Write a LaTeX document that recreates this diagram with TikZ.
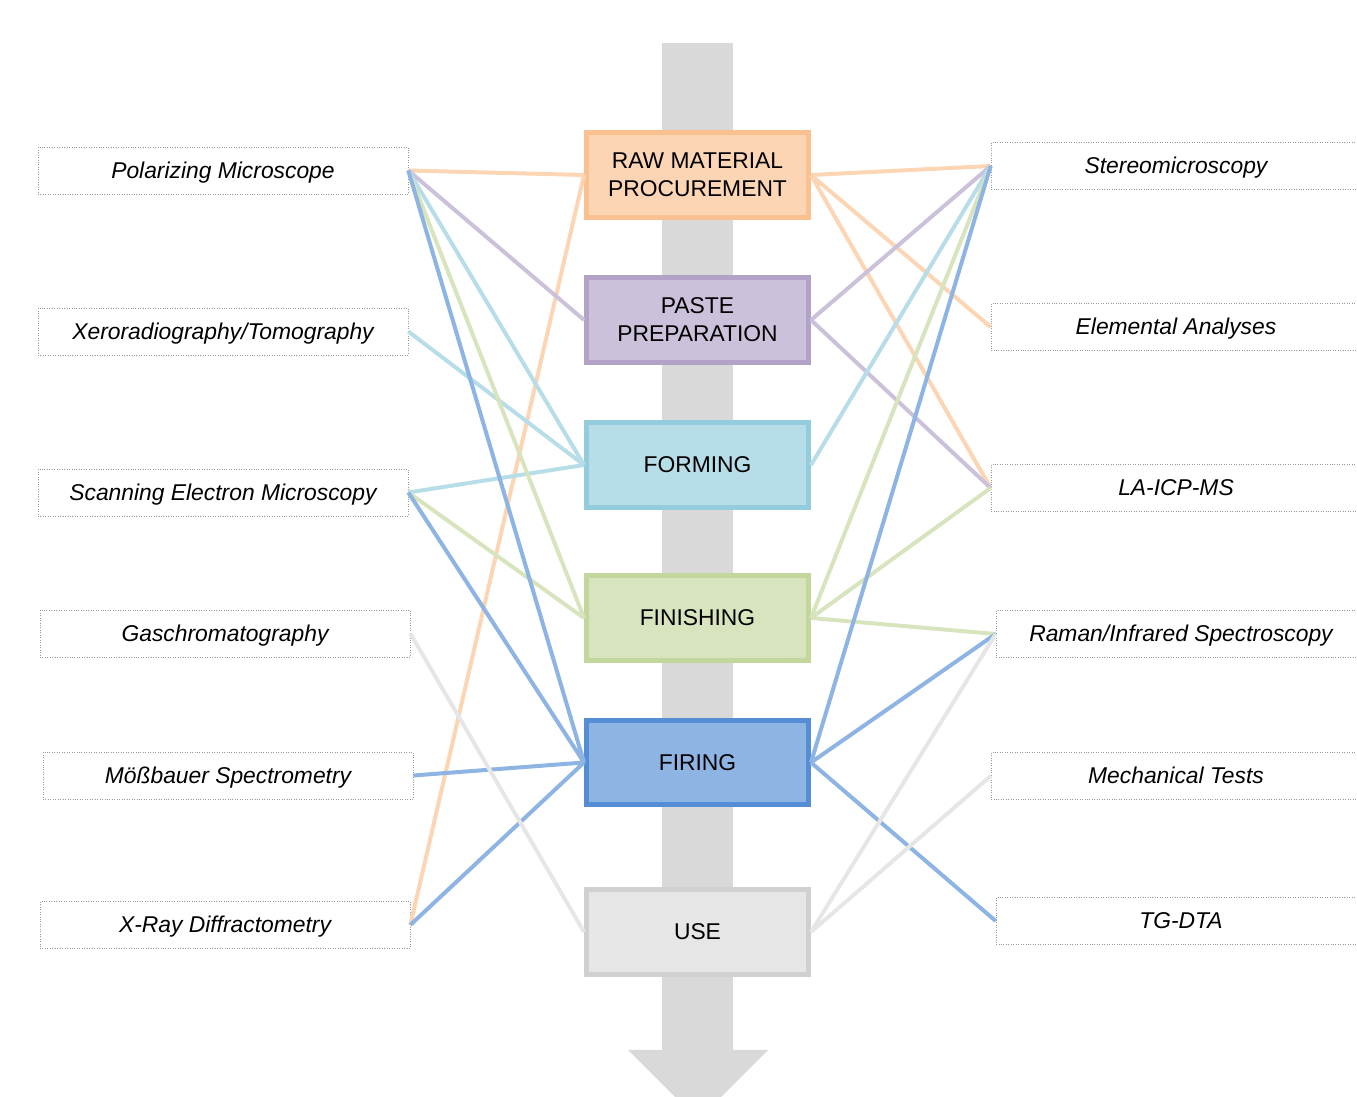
\documentclass[tikz,border=0pt]{standalone}
\usepackage{fontspec}
\setmainfont{Liberation Sans}
\usetikzlibrary{positioning}

\definecolor{rawfill}{HTML}{FCD5B5}
\definecolor{rawline}{HTML}{FAC090}
\definecolor{pastefill}{HTML}{CCC1DA}
\definecolor{pasteline}{HTML}{B3A2C7}
\definecolor{formfill}{HTML}{B7DEE8}
\definecolor{formline}{HTML}{93CDDD}
\definecolor{finfill}{HTML}{D7E4BD}
\definecolor{finline}{HTML}{C3D69B}
\definecolor{firefill}{HTML}{8EB4E3}
\definecolor{fireline}{HTML}{558ED5}
\definecolor{usefill}{HTML}{E6E6E6}
\definecolor{useline}{HTML}{D0D0D0}
\definecolor{shaft}{HTML}{D9D9D9}

\tikzset{
	every node/.style={font=\fontsize{13}{16}\selectfont},
	method/.style={draw=gray!80, densely dotted, line width=0.4pt, fill=white,
		minimum width=7.4cm, minimum height=0.94cm, text height=12pt, text depth=3pt,
		font=\fontsize{13}{16}\selectfont\itshape},
	stage/.style={line width=0.1cm, minimum width=4.44cm, minimum height=1.7cm, align=center},
	link/.style={line width=0.08cm}
}

\begin{document}
\begin{tikzpicture}[x=0.02cm,y=-0.02cm]
\useasboundingbox (0,0) rectangle (1357,1097);
\clip (0,0) rectangle (1357,1097);
%arrow
\fill[shaft] (662,43) rectangle (733,1050);
\fill[shaft] (628,1050) -- (768,1050) -- (698,1120) -- cycle;
%stages
\node[stage, draw=rawline, fill=rawfill] (raw) at (697.5,175) {RAW MATERIAL\\PROCUREMENT};
\node[stage, draw=pasteline, fill=pastefill] (paste) at (697.5,320) {PASTE\\PREPARATION};
\node[stage, draw=formline, fill=formfill] (forming) at (697.5,465) {FORMING};
\node[stage, draw=finline, fill=finfill] (finishing) at (697.5,618) {FINISHING};
\node[stage, draw=fireline, fill=firefill] (firing) at (697.5,762.5) {FIRING};
\node[stage, draw=useline, fill=usefill] (use) at (697.5,932) {USE};
%left methods
\node[method] (pm) at (223,170.5) {Polarizing Microscope};
\node[method] (xt) at (223,331.5) {Xeroradiography/Tomography};
\node[method] (sem) at (223,492.5) {Scanning Electron Microscopy};
\node[method] (gc) at (225,633.5) {Gaschromatography};
\node[method] (ms) at (228,775.5) {Mößbauer Spectrometry};
\node[method] (xrd) at (225,925) {X-Ray Diffractometry};
%right methods
\node[method] (stereo) at (1176,166) {Stereomicroscopy};
\node[method] (elem) at (1176,327) {Elemental Analyses};
\node[method] (la) at (1176,488) {LA-ICP-MS};
\node[method] (raman) at (1181,634) {Raman/Infrared Spectroscopy};
\node[method] (mech) at (1176,776) {Mechanical Tests};
\node[method] (tg) at (1181,921) {TG-DTA};
%raw material
\draw[link, rawfill] (pm.east) -- (raw.west)
	(xrd.east) -- (raw.west)
	(raw.east) -- (stereo.west)
	(raw.east) -- (elem.west)
	(raw.east) -- (la.west);
%paste
\draw[link, pastefill] (pm.east) -- (paste.west)
	(paste.east) -- (stereo.west)
	(paste.east) -- (la.west);
%forming
\draw[link, formfill] (pm.east) -- (forming.west)
	(xt.east) -- (forming.west)
	(sem.east) -- (forming.west)
	(forming.east) -- (stereo.west);
%finishing
\draw[link, finfill] (pm.east) -- (finishing.west)
	(sem.east) -- (finishing.west)
	(finishing.east) -- (stereo.west)
	(finishing.east) -- (la.west)
	(finishing.east) -- (raman.west);
%firing
\draw[link, firefill] (pm.east) -- (firing.west)
	(sem.east) -- (firing.west)
	(ms.east) -- (firing.west)
	(xrd.east) -- (firing.west)
	(firing.east) -- (stereo.west)
	(firing.east) -- (raman.west)
	(firing.east) -- (tg.west);
%use
\draw[link, usefill] (gc.east) -- (use.west)
	(use.east) -- (raman.west)
	(use.east) -- (mech.west);
\end{tikzpicture}
\end{document}
